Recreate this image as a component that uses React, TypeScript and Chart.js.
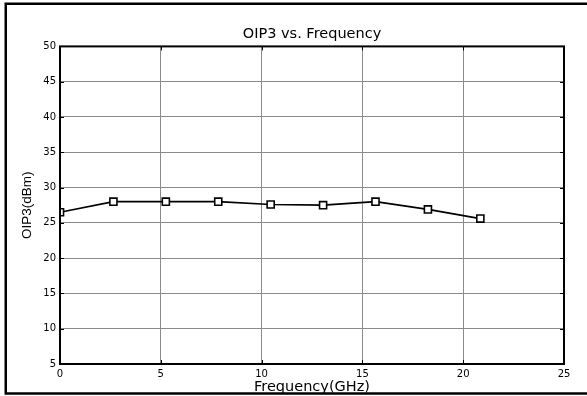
import React, { useEffect, useRef } from "react";
import { Chart, registerables } from "chart.js";

Chart.register(...registerables);

const titleText = "OIP3 vs. Frequency";
const xLabel = "Frequency(GHz)";
const yLabel = "OIP3(dBm)";

const freqGHz = [0, 2.65, 5.25, 7.85, 10.45, 13.05, 15.65, 18.25, 20.85];
const oip3dBm = [26.5, 28, 28, 28, 27.6, 27.5, 28, 26.9, 25.6];

const xTicks = [0, 5, 10, 15, 20, 25];
const yTicks = [5, 10, 15, 20, 25, 30, 35, 40, 45, 50];

const W = 587;
const H = 396;

const framePlugin = {
  id: "frame",
  afterDraw(chart: any) {
    const { ctx, chartArea: a, scales } = chart;
    ctx.save();
    ctx.strokeStyle = "#000";
    ctx.lineWidth = 1;
    ctx.beginPath();
    scales.x.ticks.forEach((t: any) => {
      const px = Math.round(scales.x.getPixelForValue(t.value)) + 0.5;
      ctx.moveTo(px, a.top);
      ctx.lineTo(px, a.top + 4);
      ctx.moveTo(px, a.bottom);
      ctx.lineTo(px, a.bottom - 4);
    });
    scales.y.ticks.forEach((t: any) => {
      const py = Math.round(scales.y.getPixelForValue(t.value)) + 0.5;
      ctx.moveTo(a.left, py);
      ctx.lineTo(a.left + 4, py);
      ctx.moveTo(a.right, py);
      ctx.lineTo(a.right - 4, py);
    });
    ctx.stroke();
    ctx.lineWidth = 2;
    ctx.strokeRect(a.left, a.top, a.right - a.left, a.bottom - a.top);
    ctx.lineWidth = 2.5;
    ctx.beginPath();
    ctx.moveTo(W + 10, 3.75);
    ctx.lineTo(5.75, 3.75);
    ctx.lineTo(5.75, 393.5);
    ctx.lineTo(W + 10, 393.5);
    ctx.stroke();
    ctx.restore();
  },
};

export default function App() {
  const ref = useRef<HTMLCanvasElement | null>(null);

  useEffect(() => {
    if (!ref.current) return;
    const tickFont = { family: "DejaVu Sans", size: 10 };
    const chart = new Chart(ref.current, {
      type: "line",
      data: {
        datasets: [
          {
            label: yLabel,
            data: freqGHz.map((x, i) => ({ x, y: oip3dBm[i] })),
            borderColor: "#000",
            borderWidth: 1.7,
            pointStyle: "rect",
            pointRadius: 5,
            pointBorderWidth: 1.6,
            pointBorderColor: "#000",
            pointBackgroundColor: "#fff",
            tension: 0,
          },
        ],
      },
      options: {
        responsive: false,
        animation: false,
        devicePixelRatio: 1,
        layout: { padding: { left: 0, right: 23, top: 0, bottom: 0 } },
        plugins: {
          legend: { display: false },
          tooltip: { enabled: false },
          title: {
            display: true,
            text: titleText,
            fullSize: false,
            color: "#000",
            font: { family: "DejaVu Sans", size: 14.5, weight: "normal" },
            padding: { top: 26, bottom: 3 },
          },
        },
        scales: {
          x: {
            type: "linear",
            min: 0,
            max: 25,
            afterBuildTicks: (s: any) => {
              s.ticks = xTicks.map((v) => ({ value: v }));
            },
            afterFit: (s: any) => {
              s.height = 32;
            },
            ticks: { color: "#000", font: tickFont, padding: 4, maxRotation: 0, autoSkip: false },
            grid: { color: "#8a8a8a", lineWidth: 1, drawTicks: false },
            border: { display: false },
            title: {
              display: true,
              text: xLabel,
              color: "#000",
              font: { family: "DejaVu Sans", size: 14.5 },
              padding: { top: 0, bottom: 0 },
            },
          },
          y: {
            type: "linear",
            min: 5,
            max: 50,
            afterBuildTicks: (s: any) => {
              s.ticks = yTicks.map((v) => ({ value: v }));
            },
            afterFit: (s: any) => {
              s.width = 60;
            },
            ticks: { color: "#000", font: tickFont, padding: 4, autoSkip: false },
            grid: { color: "#8a8a8a", lineWidth: 1, drawTicks: false },
            border: { display: false },
            title: {
              display: true,
              text: yLabel,
              color: "#000",
              font: { family: "Liberation Sans", size: 13.5 },
              padding: { top: 19.5, bottom: 0 },
            },
          },
        },
      },
      plugins: [framePlugin],
    });
    return () => chart.destroy();
  }, []);

  return (
    <div style={{ position: "absolute", left: 0, top: 0, width: W, height: H, background: "#fff" }}>
      <canvas ref={ref} width={W} height={H} style={{ display: "block" }} />
    </div>
  );
}
